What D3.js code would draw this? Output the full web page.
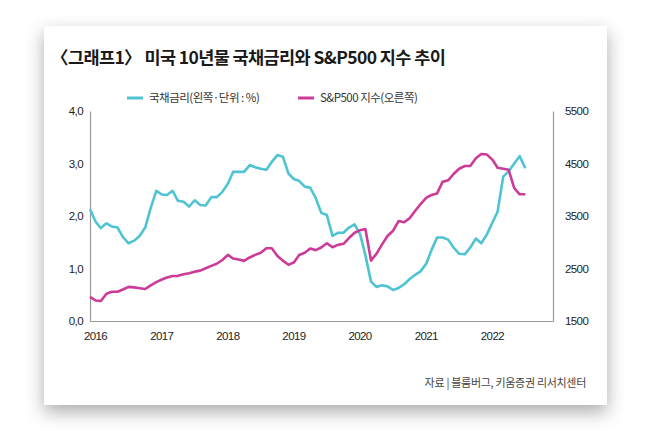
<!DOCTYPE html>
<html>
<head>
<meta charset="utf-8">
<script src="https://cdn.jsdelivr.net/npm/d3@7"></script>
<style>
  body { margin: 0; background: #fff; }
  text { font-family: 'Liberation Sans', 'Noto Sans CJK KR', sans-serif; }
  .kr { font-family: 'Noto Sans CJK KR', sans-serif; }
</style>
</head>
<body>
<div id="chart"></div>
<script>
// monthly values, Jan 2016 .. Aug 2022
const startYear = 2016
const treasury = [
  2.13, 1.89, 1.77, 1.86, 1.80, 1.78, 1.60, 1.48, 1.53, 1.62,
  1.78, 2.15, 2.48, 2.41, 2.40, 2.48, 2.29, 2.27, 2.18, 2.30,
  2.21, 2.20, 2.36, 2.36, 2.46, 2.62, 2.84, 2.84, 2.84, 2.97,
  2.93, 2.90, 2.88, 3.03, 3.16, 3.13, 2.81, 2.70, 2.67, 2.56,
  2.54, 2.34, 2.06, 2.02, 1.62, 1.68, 1.68, 1.78, 1.84, 1.65,
  1.25, 0.75, 0.65, 0.68, 0.66, 0.59, 0.63, 0.70, 0.80, 0.88,
  0.95, 1.10, 1.35, 1.59, 1.59, 1.55, 1.40, 1.28, 1.27, 1.40,
  1.57, 1.48, 1.65, 1.88, 2.08, 2.75, 2.85, 3.00, 3.14, 2.91
]
const sp500 = [
  1960, 1890, 1880, 2020, 2058, 2058, 2100, 2150, 2140, 2125,
  2110, 2180, 2240, 2290, 2330, 2357, 2360, 2390, 2410, 2440,
  2460, 2504, 2550, 2590, 2662, 2760, 2690, 2670, 2645, 2710,
  2760, 2800, 2885, 2885, 2740, 2650, 2570, 2620, 2757, 2800,
  2880, 2850, 2900, 2980, 2904, 2950, 2970, 3080, 3180, 3230,
  3253, 2650, 2780, 2960, 3120, 3220, 3405, 3380, 3460, 3600,
  3730, 3850, 3900, 3930, 4150, 4180, 4300, 4400, 4453, 4453,
  4600, 4681, 4670, 4570, 4420, 4400, 4380, 4030, 3914, 3914
]
const years = [2016, 2017, 2018, 2019, 2020, 2021, 2022]
const leftTicks = [0, 1, 2, 3, 4]
const rightTicks = [1500, 2500, 3500, 4500, 5500]
const seriesNames = ['국채금리(왼쪽·단위 : %)', 'S&P500 지수(오른쪽)']
const colors = ['#4ec4d3', '#cc3b98']

const width = 650
const height = 441
const plot = { left: 90, right: 553, top: 111, bottom: 321 }

const svg = d3
  .select('#chart')
  .append('svg')
  .attr('width', width)
  .attr('height', height)

const defs = svg.append('defs')
const shadow = defs.append('filter')
  .attr('id', 'shadow')
  .attr('x', '-20%').attr('y', '-20%')
  .attr('width', '140%').attr('height', '150%')
shadow.append('feDropShadow')
  .attr('dx', 0).attr('dy', 7)
  .attr('stdDeviation', 9)
  .attr('flood-color', '#000')
  .attr('flood-opacity', 0.33)

// card
svg.append('rect')
  .attr('x', 44).attr('y', 26)
  .attr('width', 563).attr('height', 379)
  .attr('fill', '#fff')
  .attr('filter', 'url(#shadow)')

svg.append('text')
  .attr('class', 'kr')
  .attr('x', 51).attr('y', 64)
  .attr('font-size', 17.5)
  .attr('font-weight', 'bold')
  .attr('letter-spacing', -0.6)
  .attr('fill', '#1a1a1a')
  .text('〈그래프1〉 미국 10년물 국채금리와 S&P500 지수 추이')

const dates = treasury.map((d, i) => new Date(startYear, i, 1))

const x = d3.scaleTime()
  .domain([new Date(2016, 0, 1), new Date(2023, 0, 1)])
  .range([plot.left, plot.right])

const yLeft = d3.scaleLinear().domain([0, 4]).range([plot.bottom, plot.top])
const yRight = d3.scaleLinear().domain([1500, 5500]).range([plot.bottom, plot.top])

const fmt = d3.format('.1f')

const styleAxis = g => {
  g.select('.domain').attr('stroke', '#9a9a9a').attr('stroke-width', 1.2)
  g.selectAll('.tick line').remove()
  g.selectAll('.tick text')
    .attr('font-size', 11.5)
    .attr('letter-spacing', -0.6)
    .attr('fill', '#222')
}

svg.append('g')
  .attr('transform', `translate(${plot.left},0)`)
  .call(d3.axisLeft(yLeft).tickValues(leftTicks).tickSize(0).tickPadding(7)
    .tickFormat(d => fmt(d).replace('.', ',')))
  .attr('font-family', null)
  .call(styleAxis)

svg.append('g')
  .attr('transform', `translate(${plot.right},0)`)
  .call(d3.axisRight(yRight).tickValues(rightTicks).tickSize(0).tickPadding(12)
    .tickFormat(d3.format('d')))
  .attr('font-family', null)
  .call(styleAxis)

svg.append('g')
  .attr('transform', `translate(0,${plot.bottom})`)
  .call(d3.axisBottom(x).tickValues(years.map(y => new Date(y, 0, 1)))
    .tickSize(0).tickPadding(11).tickFormat(d3.timeFormat('%Y')))
  .attr('font-family', null)
  .call(styleAxis)
  .call(g => g.selectAll('.tick text').attr('dx', 5))

const lineLeft = d3.line()
  .x((d, i) => x(dates[i]))
  .y(d => yLeft(d))

const lineRight = d3.line()
  .x((d, i) => x(dates[i]))
  .y(d => yRight(d))

svg.append('path')
  .datum(treasury)
  .attr('fill', 'none')
  .attr('stroke', colors[0])
  .attr('stroke-width', 2.6)
  .attr('stroke-linejoin', 'round')
  .attr('d', lineLeft)

svg.append('path')
  .datum(sp500)
  .attr('fill', 'none')
  .attr('stroke', colors[1])
  .attr('stroke-width', 2.6)
  .attr('stroke-linejoin', 'round')
  .attr('d', lineRight)

// legend
const legendX = [127, 298]
const legend = svg.selectAll('.legend')
  .data(seriesNames)
  .enter()
  .append('g')
  .attr('class', 'legend')
  .attr('transform', (d, i) => `translate(${legendX[i]},98)`)

legend.append('line')
  .attr('x1', 0).attr('x2', 16)
  .attr('stroke', (d, i) => colors[i])
  .attr('stroke-width', 3)

legend.append('text')
  .attr('class', 'kr')
  .attr('x', 22).attr('y', 4)
  .attr('font-size', 11.5)
  .attr('letter-spacing', -0.5)
  .attr('fill', '#333')
  .text(d => d)

svg.append('text')
  .attr('class', 'kr')
  .attr('x', 586).attr('y', 387)
  .attr('text-anchor', 'end')
  .attr('font-size', 11)
  .attr('letter-spacing', -0.3)
  .attr('fill', '#444')
  .text('자료 | 블룸버그, 키움증권 리서치센터')
</script>
</body>
</html>
